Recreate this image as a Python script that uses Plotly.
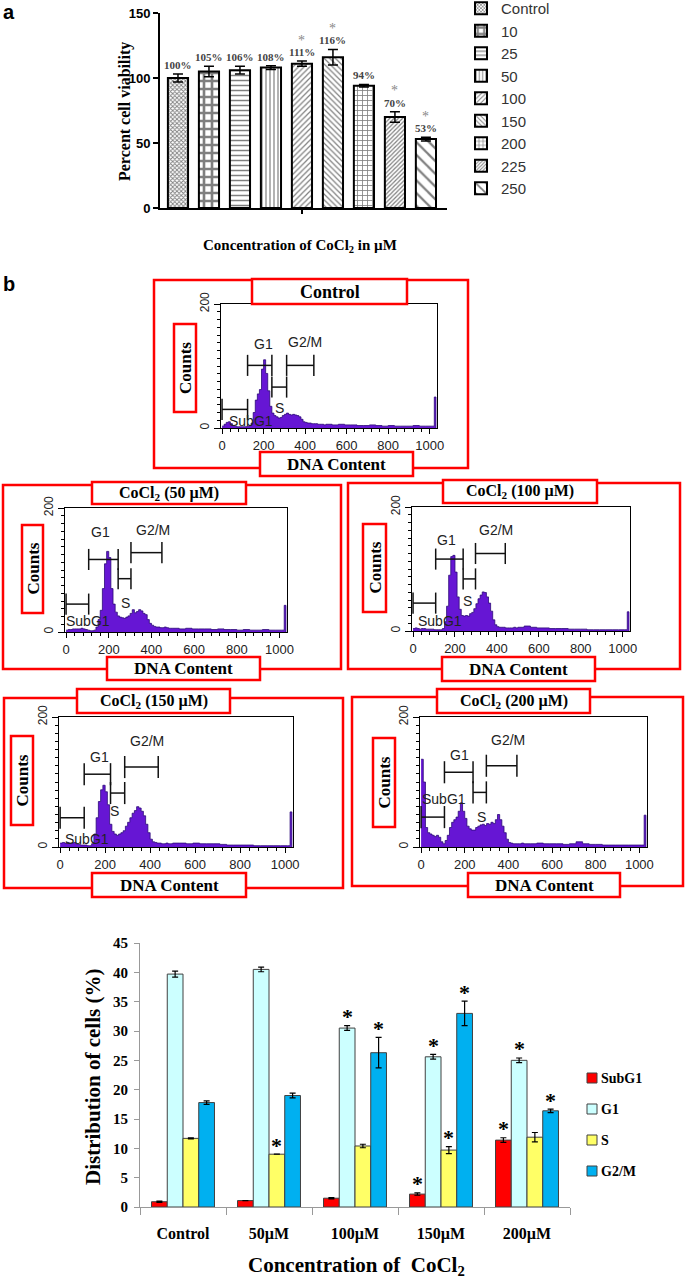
import plotly.graph_objects as go

W, H = 685, 1280
def px(x): return x / W
def py(y): return 1 - y / H

SERIF = "Liberation Serif"
SANS = "Liberation Sans"

# ---------------- Panel a data ----------------
conc_a = ["Control", "10", "25", "50", "100", "150", "200", "225", "250"]
viability = [100, 105, 106, 108, 111, 116, 94, 70, 53]
viability_err = [3, 4, 3, 1.5, 2, 6, 1, 4, 1.5]
viability_sig = [False, False, False, False, True, True, False, True, True]
# (shape, size, solidity) per bar pattern
patterns_a = [("x", 3, 0.5), ("+", 8, 0.55), ("-", 5, 0.3), ("|", 4, 0.3),
              ("/", 4, 0.3), ("\\", 4, 0.3), ("+", 5, 0.3), ("/", 3, 0.4), ("\\", 9, 0.25)]

# ---------------- Panel b histogram data ----------------
dna_bins = list(range(0, 500, 10)) + list(range(500, 1000, 30)) + [1010, 1022, 1030]
counts_control = [3, 6, 9, 10, 7, 4, 3, 2, 2, 2, 2, 2, 3, 4, 8, 25, 45, 55, 62, 95,
                  110, 88, 60, 35, 24, 20, 18, 16, 17, 20, 22, 24, 22, 21, 22, 21, 20, 18, 14, 10,
                  9, 8, 8, 7, 7, 7, 6, 6, 6, 5,
                  6, 5, 6, 5, 5, 4, 4, 5, 4, 3, 4, 3, 3, 3, 4, 3, 3, 3, 50, 0]
counts_50 = [3, 4, 4, 5, 5, 5, 5, 6, 5, 4, 3, 2, 2, 3, 8, 20, 35, 70, 110, 130,
             120, 70, 45, 32, 26, 24, 23, 22, 24, 26, 30, 36, 31, 33, 36, 34, 30, 28, 20, 14,
             11, 9, 8, 8, 7, 7, 8, 7, 6, 6,
             6, 5, 6, 5, 5, 5, 4, 5, 4, 4, 3, 4, 3, 3, 4, 3, 3, 3, 43, 0]
counts_100 = [4, 5, 4, 3, 4, 4, 3, 3, 3, 3, 2, 2, 2, 2, 4, 15, 40, 90, 120, 122,
              95, 55, 35, 25, 24, 25, 24, 28, 30, 36, 44, 52, 58, 63, 62, 55, 45, 32, 18, 10,
              7, 6, 6, 6, 5, 5, 5, 5, 6, 5,
              6, 8, 6, 5, 5, 4, 4, 4, 3, 3, 3, 2, 2, 2, 2, 2, 2, 2, 31, 0]
counts_150 = [6, 7, 6, 7, 6, 6, 7, 5, 4, 3, 3, 3, 2, 2, 5, 20, 45, 70, 88, 95,
              85, 65, 35, 24, 20, 18, 20, 22, 25, 32, 38, 45, 52, 56, 62, 60, 55, 48, 35, 22,
              12, 8, 7, 6, 6, 5, 5, 6, 5, 5,
              6, 6, 5, 6, 5, 5, 5, 4, 3, 3, 3, 3, 2, 2, 2, 2, 2, 2, 54, 0]
counts_200 = [135, 100, 30, 22, 20, 18, 16, 18, 15, 8, 5, 10, 18, 30, 38, 42, 46, 55, 68, 55,
              44, 32, 28, 26, 26, 30, 32, 34, 35, 33, 36, 35, 38, 36, 42, 50, 42, 32, 22, 12,
              7, 6, 5, 5, 5, 5, 6, 5, 5, 5,
              5, 6, 5, 5, 5, 4, 5, 8, 5, 4, 4, 3, 3, 3, 3, 3, 3, 3, 49, 0]

gate_names = ["SubG1", "G1", "S", "G2/M"]
# (start, end, height) of each gate marker
gates_control = [(0, 123, 30), (123, 240, 101), (240, 311, 66), (311, 442, 101)]
gates_50 = [(0, 106, 45), (106, 244, 117), (244, 304, 86), (304, 449, 128)]
gates_100 = [(0, 108, 45), (108, 239, 116), (239, 298, 84), (298, 440, 125)]
gates_150 = [(0, 107, 45), (107, 224, 112), (224, 287, 83), (287, 436, 123)]
gates_200 = [(0, 107, 46), (107, 238, 115), (238, 299, 84), (299, 439, 125)]
gate_labels_control = [(140, 12), (199, 135), (276, 33), (400, 139)]
gate_labels_50 = [(102, 18), (161, 161), (277, 46), (407, 165)]
gate_labels_100 = [(129, 16), (160, 146), (259, 49), (396, 163)]
gate_labels_150 = [(119, 13), (176, 139), (243, 56), (388, 163)]
gate_labels_200 = [(103, 74), (178, 141), (276, 46), (397, 164)]

# ---------------- Bottom chart data ----------------
groups = ["Control", "50µM", "100µM", "150µM", "200µM"]
phases = ["SubG1", "G1", "S", "G2/M"]
subg1 = [0.9, 1.1, 1.5, 2.2, 11.4]
g1 = [39.7, 40.5, 30.5, 25.6, 25.0]
s_phase = [11.7, 9.0, 10.4, 9.7, 11.9]
g2m = [17.8, 19.0, 26.3, 33.0, 16.4]
subg1_err = [0.1, 0, 0.1, 0.2, 0.4]
g1_err = [0.5, 0.4, 0.4, 0.4, 0.4]
s_err = [0.1, 0, 0.3, 0.6, 0.8]
g2m_err = [0.3, 0.4, 2.6, 2.1, 0.3]
subg1_sig = [False, False, False, True, True]
g1_sig = [False, False, True, True, True]
s_sig = [False, True, False, True, False]
g2m_sig = [False, False, True, True, True]
phase_colors = ["#ff0000", "#ccffff", "#ffff66", "#00b0f0"]

fig = go.Figure()
annotations = []
shapes = []

# ---------------- Panel a ----------------
for i, (c, v, e, pat) in enumerate(zip(conc_a, viability, viability_err, patterns_a)):
    fig.add_trace(go.Bar(
        x=[c], y=[v], name=c, width=0.65, offset=-0.325,
        error_y=dict(type="data", array=[e], color="black", thickness=1.5, width=5),
        marker=dict(color="white", line=dict(color="black", width=2),
                    pattern=dict(shape=pat[0], size=pat[1], solidity=pat[2],
                                 fgcolor="black", bgcolor="white")),
        xaxis="x", yaxis="y", legend="legend", hoverinfo="skip"))
    annotations.append(dict(x=i, y=v + e, xref="x", yref="y", text=f"<b>{v}%</b>",
                            yshift=9, font=dict(family=SERIF, size=11, color="#444")))
    if viability_sig[i]:
        annotations.append(dict(x=i, y=v + e, xref="x", yref="y", text="*",
                                yshift=21, font=dict(family=SERIF, size=14, color="#888")))

# ---------------- Panel b ----------------
panels = [
    dict(title="<b>Control</b>", L=221, R=437, y0=428, y200=304,
         outer=(154, 280, 468, 468), tbox=(252, 279, 407, 304), cbox=(174, 324, 196, 412),
         dbox=(260, 452, 413, 476), counts=counts_control, gates=gates_control,
         glabels=gate_labels_control),
    dict(title="<b>CoCl<sub>2</sub> (50 µM)</b>", L=65, R=287, y0=632, y200=508,
         outer=(3, 485, 341, 669), tbox=(92, 482, 246, 504), cbox=(22, 525, 43, 613),
         dbox=(107, 657, 260, 680), counts=counts_50, gates=gates_50, glabels=gate_labels_50),
    dict(title="<b>CoCl<sub>2</sub> (100 µM)</b>", L=412, R=630, y0=631, y200=507,
         outer=(348, 483, 680, 669), tbox=(443, 480, 597, 503), cbox=(363, 524, 386, 612),
         dbox=(442, 657, 595, 681), counts=counts_100, gates=gates_100, glabels=gate_labels_100),
    dict(title="<b>CoCl<sub>2</sub> (150 µM)</b>", L=59, R=293, y0=847, y200=717,
         outer=(4, 698, 343, 888), tbox=(77, 689, 230, 713), cbox=(11, 736, 33, 825),
         dbox=(92, 873, 246, 897), counts=counts_150, gates=gates_150, glabels=gate_labels_150),
    dict(title="<b>CoCl<sub>2</sub> (200 µM)</b>", L=420, R=647, y0=847, y200=717,
         outer=(352, 697, 683, 886), tbox=(437, 689, 590, 713), cbox=(373, 738, 395, 827),
         dbox=(468, 873, 620, 897), counts=counts_200, gates=gates_200, glabels=gate_labels_200),
]

RED = "#ff0000"
layout_axes = {}
for k, p in enumerate(panels):
    n = k + 2
    fig.add_trace(go.Scatter(
        x=dna_bins, y=p["counts"], mode="lines", line=dict(shape="hv", color="#2c0a78", width=0.8),
        fill="tozeroy", fillcolor="#6616d4", xaxis=f"x{n}", yaxis=f"y{n}",
        showlegend=False, hoverinfo="skip"))
    layout_axes[f"xaxis{n}"] = dict(
        domain=[px(p["L"]), px(p["R"])], range=[-5, 1035], anchor=f"y{n}",
        tickvals=[0, 200, 400, 600, 800, 1000], ticks="outside", ticklen=5, tickwidth=1,
        tickcolor="black", tickfont=dict(family=SANS, size=13, color="#222"),
        minor=dict(ticks="outside", ticklen=3, tickmode="linear", tick0=0, dtick=40, tickcolor="black"),
        showline=True, mirror=True, linecolor="black", linewidth=1, showgrid=False, zeroline=False)
    layout_axes[f"yaxis{n}"] = dict(
        domain=[py(p["y0"]), py(p["y200"])], range=[0, 200], anchor=f"x{n}",
        tickvals=[0, 200], tickangle=-90, ticks="outside", ticklen=6, tickwidth=1,
        tickcolor="black", tickfont=dict(family=SANS, size=12, color="#222"),
        minor=dict(ticks="outside", ticklen=3, tickmode="linear", tick0=0, dtick=12.5, tickcolor="black"),
        showline=True, mirror=True, linecolor="black", linewidth=1, showgrid=False, zeroline=False)
    # gate markers
    for (g0, g1_, gy), (lx, ly), gname in zip(p["gates"], p["glabels"], gate_names):
        shapes.append(dict(type="line", xref=f"x{n}", yref=f"y{n}", x0=g0, x1=g1_, y0=gy, y1=gy,
                           line=dict(color="#111", width=1.5)))
        for gx in (g0, g1_):
            shapes.append(dict(type="line", xref=f"x{n}", yref=f"y{n}", x0=gx, x1=gx,
                               y0=gy - 17, y1=gy + 17, line=dict(color="#111", width=1.5)))
        annotations.append(dict(x=lx, y=ly, xref=f"x{n}", yref=f"y{n}", text=gname,
                                font=dict(family=SANS, size=14, color="#222")))
    # red frames
    x0, y0, x1, y1 = p["outer"]
    shapes.append(dict(type="rect", xref="paper", yref="paper", x0=px(x0), x1=px(x1),
                       y0=py(y1), y1=py(y0), line=dict(color=RED, width=2.5), layer="above"))
    for key, txt, ang, size in (("tbox", p["title"], 0, 16), ("cbox", "<b>Counts</b>", -90, 17),
                                ("dbox", "<b>DNA Content</b>", 0, 17)):
        bx0, by0, bx1, by1 = p[key]
        shapes.append(dict(type="rect", xref="paper", yref="paper", x0=px(bx0), x1=px(bx1),
                           y0=py(by1), y1=py(by0), line=dict(color=RED, width=2.5),
                           fillcolor="white", layer="above"))
        if key == "tbox" and k == 0:
            size = 18
        annotations.append(dict(x=px((bx0 + bx1) / 2), y=py((by0 + by1) / 2), xref="paper",
                                yref="paper", text=txt, textangle=ang,
                                font=dict(family=SERIF, size=size, color="black")))

# ---------------- Bottom chart ----------------
bw = 0.183
series = [(subg1, subg1_err, subg1_sig), (g1, g1_err, g1_sig), (s_phase, s_err, s_sig), (g2m, g2m_err, g2m_sig)]
for k, ((vals, errs, sig), name, col) in enumerate(zip(series, phases, phase_colors)):
    off = -2 * bw + k * bw
    fig.add_trace(go.Bar(
        x=groups, y=vals, name=name, width=bw, offset=off,
        error_y=dict(type="data", array=errs, color="black", thickness=1.2, width=3),
        marker=dict(color=col, line=dict(color="#404040", width=1)),
        xaxis="x7", yaxis="y7", showlegend=False, hoverinfo="skip"))
    for i, (v, e, sflag) in enumerate(zip(vals, errs, sig)):
        if sflag:
            annotations.append(dict(x=i + off + bw / 2, y=v + e, xref="x7", yref="y7", text="<b>*</b>",
                                    yshift=9, font=dict(family=SERIF, size=22, color="black")))
    # manual legend
    ly = 1078 + k * 31
    shapes.append(dict(type="rect", xref="paper", yref="paper", x0=px(587), x1=px(597),
                       y0=py(ly + 5), y1=py(ly - 5), fillcolor=col, line=dict(color="#404040", width=1)))
    annotations.append(dict(x=px(599), y=py(ly), xref="paper", yref="paper", text=f"<b>{name}</b>",
                            xanchor="left", font=dict(family=SERIF, size=14, color="black")))

# ---------------- Titles & labels ----------------
annotations += [
    dict(x=px(9), y=py(12), text="<b>a</b>", font=dict(family=SANS, size=20, color="black")),
    dict(x=px(9), y=py(284), text="<b>b</b>", font=dict(family=SANS, size=20, color="black")),
    dict(x=px(125), y=py(112), text="<b>Percent cell viability</b>", textangle=-90,
         font=dict(family=SERIF, size=16, color="black")),
    dict(x=px(300), y=py(246), text="<b>Concentration of CoCl<sub>2</sub> in µM</b>",
         font=dict(family=SERIF, size=15, color="black")),
    dict(x=px(93), y=py(1077), text="<b>Distribution of cells (%)</b>", textangle=-90,
         font=dict(family=SERIF, size=21, color="black")),
    dict(x=px(356), y=py(1266), text="<b>Concentration of  CoCl<sub>2</sub></b>",
         font=dict(family=SERIF, size=21, color="black")),
]
for a in annotations:
    a.setdefault("xref", "paper")
    a.setdefault("yref", "paper")
    a.setdefault("xanchor", "center")
    a.setdefault("yanchor", "middle")
    a["showarrow"] = False

fig.update_layout(
    width=W, height=H, autosize=False,
    margin=dict(l=0, r=0, t=0, b=0, autoexpand=False),
    paper_bgcolor="white", plot_bgcolor="rgba(0,0,0,0)",
    barmode="overlay",
    xaxis=dict(domain=[px(160), px(447)], range=[-0.58, 8.68], anchor="y", type="category",
               tickvals=["100"], ticktext=[""], ticks="outside", ticklen=4, tickwidth=1.5,
               tickcolor="black", showline=True, linecolor="black", linewidth=2,
               showgrid=False, zeroline=False),
    yaxis=dict(domain=[py(208), py(13)], range=[0, 150], anchor="x", tickvals=[0, 50, 100, 150],
               ticks="outside", ticklen=5, tickwidth=2, tickcolor="black",
               tickfont=dict(family=SANS, size=13, color="black", weight="bold"),
               showline=True, linecolor="black", linewidth=2, showgrid=False, zeroline=False),
    xaxis7=dict(domain=[px(140), px(570)], range=[-0.5, 4.5], anchor="y7", type="category",
                showline=True, linecolor="#999", linewidth=1, ticks="outside", tickson="boundaries",
                ticklen=7, tickcolor="#999", ticklabelstandoff=12,
                tickfont=dict(family=SERIF, size=16, color="black", weight="bold"),
                showgrid=False, zeroline=False),
    yaxis7=dict(domain=[py(1207), py(943)], range=[0, 45], anchor="x7", dtick=5,
                showline=True, linecolor="#999", linewidth=1, ticks="outside", ticklen=5,
                tickcolor="#999", ticklabelstandoff=3,
                tickfont=dict(family=SERIF, size=15, color="black", weight="bold"),
                showgrid=False, zeroline=False),
    legend=dict(x=px(461), y=1 + 8 / H, xanchor="left", yanchor="top",
                font=dict(family=SANS, size=15, color="#333"), bgcolor="rgba(0,0,0,0)",
                tracegroupgap=0, traceorder="normal"),
    shapes=shapes, annotations=annotations,
    **layout_axes,
)

fig.write_html("out.html", config={"displayModeBar": False},
               post_script="document.body.style.margin='0';document.body.style.overflow='hidden';")
